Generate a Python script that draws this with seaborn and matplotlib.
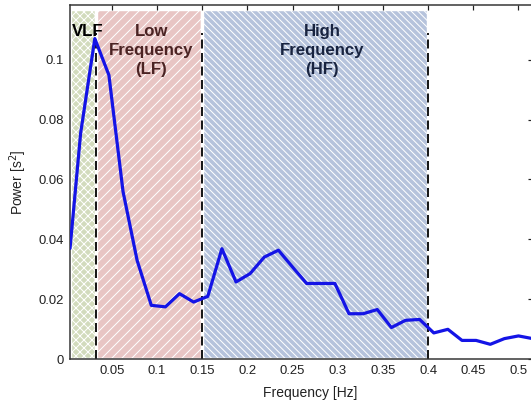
import matplotlib
matplotlib.use("Agg")
import matplotlib.pyplot as plt
import seaborn as sns
import pandas as pd

# Power spectral density of heart-rate variability
freq = [0.0039, 0.0156, 0.0313, 0.0469, 0.0625, 0.0781, 0.0938, 0.1094,
        0.1250, 0.1406, 0.1563, 0.1719, 0.1875, 0.2031, 0.2188, 0.2344,
        0.2500, 0.2656, 0.2813, 0.2969, 0.3125, 0.3281, 0.3438, 0.3594,
        0.3750, 0.3906, 0.4063, 0.4219, 0.4375, 0.4531, 0.4688, 0.4844,
        0.5000, 0.5156]
power = [0.0370, 0.0754, 0.1070, 0.0948, 0.0560, 0.0330, 0.0180, 0.0175,
         0.0219, 0.0191, 0.0210, 0.0369, 0.0258, 0.0286, 0.0341, 0.0364,
         0.0308, 0.0253, 0.0253, 0.0253, 0.0152, 0.0152, 0.0166, 0.0106,
         0.0130, 0.0133, 0.0088, 0.0100, 0.0063, 0.0063, 0.0050, 0.0069,
         0.0078, 0.0069]

# Frequency bands
band_names = ["VLF", "Low\nFrequency\n(LF)", "High\nFrequency\n(HF)"]
band_lo = [0.0033, 0.033, 0.15]
band_hi = [0.033, 0.15, 0.40]
band_colors = ["#d2dbbd", "#e8c5c4", "#b6c3dc"]
band_text_colors = ["#000000", "#4a2323", "#18233f"]
band_hatches = ["xxxxx", "////", "\\" * 6]
boundaries = [0.033, 0.15, 0.40]

xticks = [0.05, 0.10, 0.15, 0.20, 0.25, 0.30, 0.35, 0.40, 0.45, 0.50]
xtick_labels = ["0.05", "0.1", "0.15", "0.2", "0.25", "0.3", "0.35", "0.4", "0.45", "0.5"]
yticks = [0, 0.02, 0.04, 0.06, 0.08, 0.10]
ytick_labels = ["0", "0.02", "0.04", "0.06", "0.08", "0.1"]

DPI = 120


def pt(px):
    """Convert a size in output pixels to points."""
    return px * 72.0 / DPI


sns.set_theme(style="white")
plt.rcParams["font.family"] = ["Liberation Sans", "DejaVu Sans"]
plt.rcParams["hatch.linewidth"] = pt(1.0)

W, H = 531, 402
fig = plt.figure(figsize=(W / DPI, H / DPI), dpi=DPI)
ax = fig.add_axes([69.5 / W, (H - 359.3) / H, (532.5 - 69.5) / W, (359.3 - 5) / H])

ax.set_xlim(0.0033, 0.5155)
ax.set_ylim(0, 0.1182)

for lo, hi, fc, hatch in zip(band_lo, band_hi, band_colors, band_hatches):
    ax.axvspan(lo, hi, ymin=0, ymax=0.988, facecolor=fc, edgecolor="white",
               hatch=hatch, linewidth=pt(3.4), zorder=0.5)

ax.vlines(boundaries, 0, 0.109, colors="black", linewidth=pt(1.8),
          linestyles=(0, (5, 2.5)), zorder=1.5)

df = pd.DataFrame({"Frequency": freq, "Power": power})
sns.lineplot(data=df, x="Frequency", y="Power", ax=ax, color="#1414e6",
             linewidth=pt(3.2), zorder=3)

text_x = [0.0235, 0.094, 0.283]
for name, tx, tc in zip(band_names, text_x, band_text_colors):
    ax.text(tx, 0.1117, name, ha="center", va="top",
            fontsize=pt(16.7), fontweight="bold", color=tc, linespacing=1.3, zorder=4)

ax.set_xticks(xticks)
ax.set_xticklabels(xtick_labels)
ax.set_yticks(yticks)
ax.set_yticklabels(ytick_labels)
ax.tick_params(axis="both", direction="in", length=pt(5), width=pt(1.2), color="#222222",
               labelsize=pt(13.2), labelcolor="#222222", top=True, right=True, pad=pt(5.5))

ax.set_xlabel("Frequency [Hz]", fontsize=pt(13.9), color="#222222")
ax.set_ylabel("Power [s$^2$]", fontsize=pt(13.9), color="#222222")
ax.xaxis.set_label_coords((310 - 69.5) / 463, -0.074)
ax.yaxis.set_label_coords(-0.088, 0.5)

for sp in ax.spines.values():
    sp.set_color("#333333")
    sp.set_linewidth(pt(1.5))

fig.savefig("out.png", dpi=DPI)
